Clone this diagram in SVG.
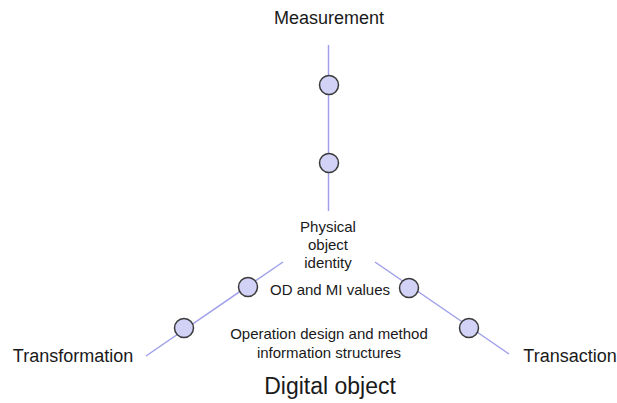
<svg xmlns="http://www.w3.org/2000/svg" width="617" height="403" viewBox="0 0 617 403">
<style>
.ln{stroke:#a0a0ea;stroke-width:1.5;fill:none}
.nd{fill:#d2d2f7;stroke:#3a3a3a;stroke-width:1.5}
text{font-family:"Liberation Sans",Arial,sans-serif;fill:#1a1a1a;text-anchor:middle}
.lbl{font-size:18px}
.sm{font-size:15px}
.big{font-size:23px}
</style>
<rect width="617" height="403" fill="#ffffff"/>
<g id="connectors">
<line class="ln" x1="328.5" y1="45" x2="328.5" y2="211"/>
<line class="ln" x1="283" y1="262" x2="146" y2="356"/>
<line class="ln" x1="375" y1="262" x2="509" y2="354"/>
</g>
<g id="measurement"><text class="lbl" x="329" y="24">Measurement</text></g>
<g id="transformation"><text class="lbl" x="73" y="362">Transformation</text></g>
<g id="transaction"><text class="lbl" x="570" y="362">Transaction</text></g>
<g id="m1"><circle class="nd" cx="329" cy="85" r="9.5"/></g>
<g id="m2"><circle class="nd" cx="329" cy="163" r="9.5"/></g>
<g id="l1"><circle class="nd" cx="248" cy="287" r="9.5"/></g>
<g id="l2"><circle class="nd" cx="184" cy="328" r="9.5"/></g>
<g id="r1"><circle class="nd" cx="409" cy="288" r="9.5"/></g>
<g id="r2"><circle class="nd" cx="469" cy="328" r="9.5"/></g>
<g id="identity"><text class="sm" x="328" y="232">Physical</text><text class="sm" x="328" y="250">object</text><text class="sm" x="328" y="268">identity</text></g>
<g id="values"><text class="sm" x="330" y="295">OD and MI values</text></g>
<g id="structures"><text class="sm" x="329" y="339">Operation design and method</text><text class="sm" x="329" y="358">information structures</text></g>
<g id="digital"><text class="big" x="330" y="394">Digital object</text></g>
</svg>
